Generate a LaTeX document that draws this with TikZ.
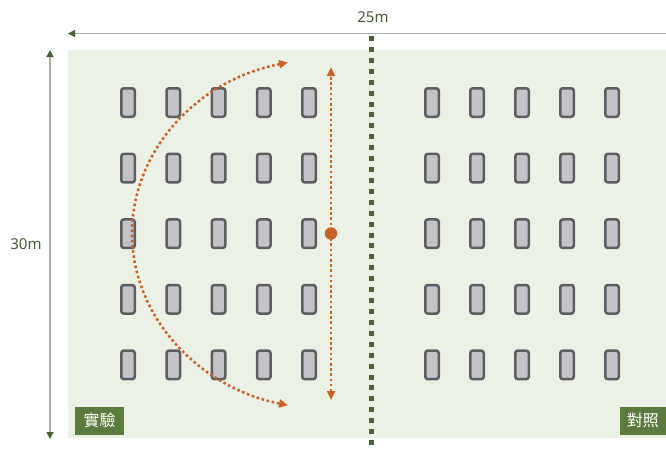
\documentclass[tikz,border=0pt]{standalone}
\usepackage{fontspec}
\setmainfont{Noto Sans}
\newfontfamily\cjk{Noto Sans CJK TC}
\usetikzlibrary{arrows.meta}

\definecolor{fieldbg}{HTML}{EBF2E5}
\definecolor{darkgreen}{HTML}{4B6136}
\definecolor{tagfill}{HTML}{5B7B3C}
\definecolor{dimtext}{HTML}{4A5C3A}
\definecolor{dimline}{HTML}{A9B1A4}
\definecolor{rust}{HTML}{C9612B}
\definecolor{plantfill}{HTML}{C3C3C8}
\definecolor{plantedge}{HTML}{5E5E62}

\tikzset{
  plant/.style={draw=plantedge, fill=plantfill, line width=2.5pt,
    rounded corners=2.5pt, minimum width=13.5pt, minimum height=28.5pt,
    inner sep=0pt},
  dimarrow/.style={draw=dimline, line width=1.3pt,
    arrows={Triangle[color=darkgreen,length=7pt,width=7pt]-Triangle[color=darkgreen,length=7pt,width=7pt]}},
  dimlabel/.style={text=dimtext, font=\fontsize{15}{18}\selectfont, inner sep=0pt},
  tag/.style={fill=tagfill, text=white, font=\cjk\fontsize{16}{18}\selectfont,
    minimum width=49pt, minimum height=28pt, inner sep=0pt},
  divider/.style={draw=darkgreen, line width=5pt, dash pattern=on 5pt off 5.92pt},
  spread/.style={draw=rust, line width=2.5pt, dash pattern=on 2.6pt off 2.6pt,
    arrows={Triangle[length=9pt,width=8pt]-Triangle[length=9pt,width=8pt]}},
}

\begin{document}
\begin{tikzpicture}[x=1pt,y=-1pt]
  \useasboundingbox (0,0) rectangle (666,451);

  % field
  \fill[fieldbg] (68,50) rectangle (666,438);

  % plants: experimental block (left) and control block (right)
  \foreach \r in {0,...,4} {
    \foreach \c in {0,...,4} {
      \node[plant] (exp-\r-\c) at ({128+45.25*\c},{102.5+65.6*\r}) {};
      \node[plant] (ctl-\r-\c) at ({432+45*\c},{102.5+65.6*\r}) {};
    }
  }

  % central divider
  \coordinate (divTop) at (371,36);
  \coordinate (divBot) at (371,448);
  \draw[divider] (divTop) -- (divBot);

  % dimensions
  \coordinate (wRight) at (668,33.5);
  \coordinate (wLeft) at (68,33.5);
  \draw[dimarrow, arrows={-Triangle[color=darkgreen,length=7pt,width=7pt]}] (wRight) -- (wLeft);
  \node[dimlabel] (wLabel) at (373,17) {25m};

  \coordinate (hTop) at (50,50);
  \coordinate (hBot) at (50,439);
  \draw[dimarrow] (hBot) -- (hTop);
  \node[dimlabel] (hLabel) at (26,244) {30m};

  % spread paths from the source point
  \coordinate (vTop) at (331,67);
  \coordinate (vBot) at (331,400);
  \draw[spread] (vBot) -- (vTop);

  \coordinate (arcStart) at (288,62.5);
  \draw[spread]
    (arcStart) arc[start angle=-102.5, end angle=-257.5, x radius=199, y radius=175.5];

  % source point
  \node[circle, fill=rust, minimum size=12.5pt, inner sep=0pt] (source) at (331,233.5) {};

  % block labels
  \node[tag, anchor=south west] (expTag) at (75,435) {實驗};
  \node[tag, anchor=south east, minimum width=46pt] (ctlTag) at (666,435) {對照};
\end{tikzpicture}
\end{document}
